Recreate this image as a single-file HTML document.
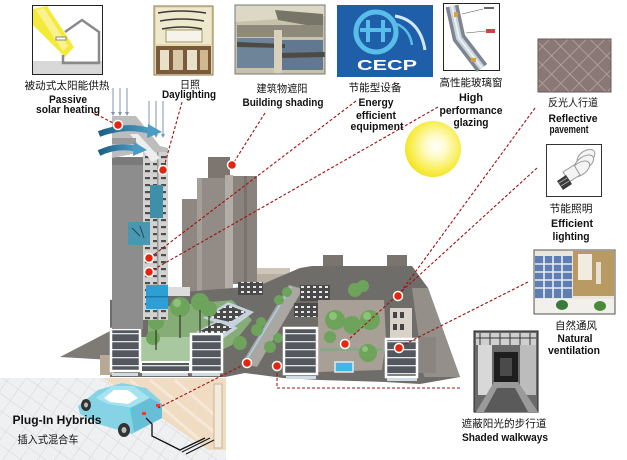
<!DOCTYPE html>
<html><head><meta charset="utf-8">
<style>
html,body{margin:0;padding:0;background:#fff;}
svg{display:block;}
.en{font-family:"Liberation Sans","Noto Sans CJK SC",sans-serif;font-weight:bold;font-size:11px;fill:#111;text-anchor:middle;}
.zh{font-family:"Liberation Sans","Noto Sans CJK SC",sans-serif;font-size:10.5px;fill:#111;text-anchor:middle;}
.dl{stroke:#a01010;stroke-width:1.1;stroke-dasharray:3 2;fill:none;}
.dot{fill:#e5260e;stroke:#fff;stroke-width:1.5;}
</style></head><body>
<svg width="627" height="460" viewBox="0 0 627 460" xmlns="http://www.w3.org/2000/svg">
<defs>
  <radialGradient id="sun" cx="0.55" cy="0.45" r="0.55">
    <stop offset="0" stop-color="#ffffff"/>
    <stop offset="0.35" stop-color="#fffbc8"/>
    <stop offset="0.8" stop-color="#f8ee50"/>
    <stop offset="1" stop-color="#f3e42a"/>
  </radialGradient>
  <pattern id="win" width="8" height="7" patternUnits="userSpaceOnUse">
    <rect width="8" height="7" fill="#d2d2d0"/><rect x="1" y="2" width="5" height="2.2" fill="#4e4e4e"/>
  </pattern>
  <pattern id="fac" width="30" height="8" patternUnits="userSpaceOnUse">
    <rect width="30" height="8" fill="#54585e"/><rect y="5" width="30" height="1.3" fill="#dfe3e6"/>
  </pattern>
  <pattern id="roofw" width="6" height="5" patternUnits="userSpaceOnUse">
    <rect width="6" height="5" fill="#4a4a4a"/><rect x="1" y="1" width="3" height="2" fill="#e8e8e8"/>
  </pattern>
  <pattern id="tile" width="14" height="14" patternUnits="userSpaceOnUse" patternTransform="rotate(35)">
    <rect width="14" height="14" fill="#eef0f2"/><path d="M0 0H14M0 0V14" stroke="#d3d7db" stroke-width="1"/>
  </pattern>
  <pattern id="pave" width="13" height="13" patternUnits="userSpaceOnUse" patternTransform="rotate(45)">
    <rect width="13" height="13" fill="#8a7876"/><path d="M0 0H13M0 0V13" stroke="#b8a8a4" stroke-width="1.5"/>
  </pattern>
  <linearGradient id="arr" x1="0" x2="1"><stop offset="0" stop-color="#1c5f84"/><stop offset="1" stop-color="#4a9cc4"/></linearGradient>
</defs>

<!-- ===== Photos ===== -->
<!-- passive solar -->
<rect x="32.5" y="5.5" width="70" height="69" fill="#fff" stroke="#222"/>
<polygon points="33,9 47,6 74,47 65,57 33,25" fill="#f4ea3a"/>
<polygon points="36,10 44,8 68,46 63,51" fill="#faf290"/>
<rect x="33" y="61" width="69" height="13" fill="#d8d8d8"/>
<polyline points="63,55 63,63 99,63 99,32 82,20 65,32" fill="none" stroke="#8a8a8a" stroke-width="2.5"/>
<rect x="56" y="37" width="10" height="3" fill="#fff" stroke="#888"/>
<!-- daylighting -->
<rect x="154" y="6" width="59" height="69" fill="#e6d9ac"/>
<rect x="156" y="8" width="55" height="36" fill="#eee8cc"/>
<path d="M158 13 Q180 9 206 13 M160 21 Q182 17 204 21 M162 29 Q183 25 202 29" stroke="#3a3a3a" stroke-width="1.6" fill="none"/>
<rect x="166" y="30" width="36" height="12" fill="#f6f4ea" stroke="#a89868"/>
<rect x="156" y="46" width="55" height="28" fill="#7a5a3a"/>
<rect x="160" y="50" width="9" height="20" fill="#e8e0c8"/><rect x="173" y="50" width="10" height="20" fill="#d8c8a8"/><rect x="187" y="50" width="10" height="20" fill="#e8e0c8"/><rect x="200" y="50" width="8" height="20" fill="#d0b890"/>
<rect x="154" y="6" width="59" height="69" fill="none" stroke="#8a7a50" stroke-width="1"/>
<!-- building shading -->
<rect x="235" y="5" width="90" height="69" fill="#c9c2aa"/>
<polygon points="235,5 325,5 325,16 235,22" fill="#ddd8c6"/>
<polygon points="275,10 323,14 323,28 278,20" fill="#777468"/>
<rect x="237" y="25" width="86" height="12" fill="#8d8a7c"/>
<rect x="237" y="38" width="40" height="30" fill="#6e8498"/>
<rect x="282" y="40" width="41" height="30" fill="#617890"/>
<polygon points="237,42 285,44 285,48 237,47" fill="#4c4a42"/>
<polygon points="280,53 325,52 325,57 280,58" fill="#4c4a42"/>
<rect x="274" y="30" width="8" height="44" fill="#d8d2bc"/>
<rect x="235" y="5" width="90" height="69" fill="none" stroke="#777" stroke-width="1"/>
<!-- CECP -->
<rect x="337" y="5" width="96" height="72" fill="#1f5ea8"/>
<circle cx="376" cy="32" r="20" fill="none" stroke="#58bde8" stroke-width="5"/>
<path d="M395 16 Q420 20 425 50" stroke="#cfe9f7" stroke-width="3" fill="none"/>
<path d="M397 24 Q410 30 412 45" stroke="#58bde8" stroke-width="2.5" fill="none"/>
<rect x="366" y="20" width="4" height="22" fill="#58bde8"/><rect x="381" y="20" width="4" height="22" fill="#58bde8"/>
<rect x="360" y="28" width="31" height="4" fill="#58bde8"/>
<text x="387" y="70" font-family="Liberation Sans, sans-serif" font-weight="bold" font-size="15" fill="#fff" text-anchor="middle" textLength="60" lengthAdjust="spacingAndGlyphs">CECP</text>
<!-- glazing -->
<rect x="443.5" y="3.5" width="56" height="67" fill="#fff" stroke="#222"/>
<polyline points="452,6 459,38 482,68" fill="none" stroke="#7d858e" stroke-width="13"/>
<polyline points="452,6 459,38 482,68" fill="none" stroke="#c9d3dc" stroke-width="6"/>
<polyline points="452,6 459,38 482,68" fill="none" stroke="#e9f0f5" stroke-width="2"/>
<rect x="454" y="12" width="4" height="5" fill="#d9a040"/><rect x="471" y="58" width="5" height="4" fill="#d9a040"/>
<path d="M462 14 L483 9 M466 33 L486 31" stroke="#555" stroke-width="0.6"/>
<rect x="484" y="7" width="10" height="2" fill="#666"/><rect x="486" y="29" width="9" height="4" fill="#c44"/>
<!-- reflective pavement -->
<rect x="538" y="39" width="73" height="53" fill="url(#pave)"/>
<rect x="538" y="39" width="73" height="53" fill="none" stroke="#6a5a58"/>
<!-- bulb -->
<rect x="546.5" y="144.5" width="55" height="52" fill="#fff" stroke="#333"/>
<g fill="#f4f4f4" stroke="#9a9a9a" stroke-width="1">
<ellipse cx="586" cy="157" rx="10" ry="6" transform="rotate(-35 586 157)"/>
<ellipse cx="584" cy="163" rx="11" ry="6" transform="rotate(-35 584 163)"/>
<ellipse cx="580" cy="169" rx="11" ry="6" transform="rotate(-35 580 169)"/>
<polygon points="563,172 574,165 580,175 569,182"/>
</g>
<polygon points="557,181 566,175 572,184 563,190" fill="#3a3a3a"/>
<path d="M559 183 L567 178 M561 186 L569 181" stroke="#aaa" stroke-width="1"/>
<!-- natural ventilation -->
<rect x="534" y="250" width="81" height="64" fill="#eae6dc" stroke="#555"/>
<rect x="535" y="256" width="37" height="42" fill="#5f7fb2"/>
<path d="M535 264H572M535 272H572M535 280H572M535 288H572M544 256V298M553 256V298M562 256V298" stroke="#e8ecf0" stroke-width="1.6"/>
<rect x="573" y="251" width="41" height="45" fill="#b89a62"/>
<rect x="578" y="254" width="14" height="26" fill="#f0ece0"/>
<rect x="596" y="262" width="5" height="22" fill="#e6e0d8"/>
<rect x="535" y="299" width="79" height="14" fill="#f2f0ea"/>
<ellipse cx="562" cy="305" rx="6" ry="5" fill="#3a7a3a"/><ellipse cx="600" cy="306" rx="6" ry="5" fill="#4a8a3a"/>
<!-- shaded walkways -->
<rect x="474" y="331" width="64" height="81" fill="#6a6a6a" stroke="#222"/>
<rect x="476" y="333" width="60" height="12" fill="#cfcfcf"/>
<path d="M476 338H536M480 333V345M490 333V345M500 333V345M510 333V345M520 333V345M530 333V345" stroke="#333" stroke-width="1"/>
<rect x="478" y="345" width="14" height="50" fill="#d8d8d8"/>
<rect x="520" y="345" width="16" height="50" fill="#bcbcbc"/>
<rect x="494" y="352" width="24" height="30" fill="#1e1e1e"/>
<rect x="500" y="358" width="12" height="18" fill="#4a4a4a"/>
<polygon points="476,412 494,382 518,382 538,412" fill="#9a9a9a"/>
<polygon points="484,412 497,388 515,388 528,412" fill="#5a5a5a"/>

<!-- ===== Sun ===== -->
<circle cx="433" cy="149" r="28" fill="url(#sun)"/>

<!-- ===== Complex: back buildings ===== -->
<rect x="208" y="157" width="22" height="25" fill="#7d7670"/>
<rect x="182" y="199" width="16" height="96" fill="#8f8882"/>
<rect x="197" y="178" width="28" height="117" fill="#938c86"/>
<rect x="197" y="178" width="5" height="117" fill="#a59f99"/>
<rect x="225" y="175" width="8" height="115" fill="#b3ada7"/>
<rect x="233" y="176" width="24" height="108" fill="#8a837d"/>
<rect x="244" y="176" width="3" height="108" fill="#7a736d"/>
<!-- right cluster -->
<rect x="323" y="255" width="20" height="18" fill="#7a746e"/>
<rect x="312" y="270" width="31" height="20" fill="#8a847e"/>
<rect x="343" y="272" width="44" height="20" fill="#77716b"/>
<rect x="387" y="255" width="20" height="22" fill="#7a746e"/>
<rect x="385" y="275" width="32" height="30" fill="#6e6862"/>
<rect x="257" y="268" width="33" height="22" fill="#b8aea2"/>
<rect x="257" y="268" width="33" height="6" fill="#cfc6ba"/>

<!-- ground -->
<polygon points="110,300 182,292 258,286 300,268 312,266 412,266 428,288 460,377 420,384 385,382 320,380 283,378 245,373 225,377 110,377" fill="#6f6d69"/>
<!-- right slab -->
<polygon points="412,288 428,288 460,377 424,377" fill="#958f8a"/>
<!-- left shadow triangle -->
<polygon points="60,357 112,330 112,360" fill="#7e7a76"/>
<rect x="100" y="355" width="14" height="20" fill="#b8a896"/>

<!-- courtyard left -->
<polygon points="148,308 232,300 252,320 232,345 196,362 148,362" fill="#86ad78"/>
<rect x="140" y="337" width="52" height="24" fill="#a8c8a0"/>
<rect x="167" y="287" width="23" height="9" fill="#dcdcdc"/>
<!-- roof blocks -->
<polygon points="203,318 228,302 254,312 232,328" fill="#c6d2de"/>
<polygon points="208,317 228,305 246,312 230,322" fill="url(#roofw)"/>
<polygon points="196,332 218,320 238,328 218,342" fill="#c6d2de"/>
<polygon points="200,331 218,322 232,328 218,337" fill="url(#roofw)"/>
<rect x="238" y="282" width="25" height="13" fill="url(#roofw)"/>
<!-- street -->
<polygon points="289,285 303,289 257,367 242,363" fill="#aaa7a3"/>
<line x1="291" y1="287" x2="244" y2="364" stroke="#a8d0e8" stroke-width="1.5"/>
<!-- dark windowed roofs right of street -->
<rect x="300" y="285" width="30" height="16" fill="url(#roofw)"/>
<rect x="294" y="303" width="26" height="14" fill="url(#roofw)"/>
<!-- right courtyard -->
<polygon points="318,300 384,300 386,340 382,370 318,372" fill="#a8a096"/>
<rect x="320" y="348" width="62" height="3" fill="#88a888"/>
<rect x="335" y="362" width="18" height="10" fill="#3eb8ea" stroke="#e8e8e8" stroke-width="1.5"/>
<rect x="390" y="308" width="22" height="30" fill="#d8d2c8"/>
<path d="M393 312h4v6h-4zM400 312h4v6h-4zM393 324h4v6h-4zM400 324h4v6h-4z" fill="#444"/>
<rect x="418" y="337" width="18" height="36" fill="#8a8580"/>

<!-- trees -->
<g fill="#6da35a">
<circle cx="180" cy="307" r="10"/><circle cx="200" cy="302" r="9"/><circle cx="209" cy="309" r="8"/>
<circle cx="156" cy="322" r="8"/><circle cx="153" cy="338" r="7"/><circle cx="240" cy="343" r="7"/>
<circle cx="257" cy="330" r="6"/><circle cx="261" cy="322" r="5"/><circle cx="270" cy="347" r="6"/>
<circle cx="279" cy="300" r="5"/><circle cx="287" cy="292" r="5"/><circle cx="278" cy="338" r="5"/>
<circle cx="335" cy="320" r="10"/><circle cx="352" cy="325" r="9"/><circle cx="370" cy="320" r="10"/>
<circle cx="355" cy="290" r="7"/><circle cx="363" cy="286" r="6"/><circle cx="368" cy="353" r="9"/>
<circle cx="330" cy="337" r="6"/>
</g>
<g fill="#8ec27a">
<circle cx="177" cy="303" r="4"/><circle cx="333" cy="316" r="4"/><circle cx="367" cy="316" r="4"/><circle cx="365" cy="349" r="3"/>
</g>
<path d="M180 315V338M200 310V335M209 316V340M156 330V350" stroke="#2f3a2a" stroke-width="1.2"/>

<!-- white-framed front buildings -->
<rect x="111" y="329" width="29" height="42" fill="url(#fac)" stroke="#fff" stroke-width="2.5"/>
<rect x="141" y="362" width="49" height="10" fill="url(#fac)" stroke="#fff" stroke-width="2"/>
<rect x="191" y="334" width="31" height="38" fill="url(#fac)" stroke="#fff" stroke-width="2.5"/>
<rect x="284" y="328" width="33" height="46" fill="url(#fac)" stroke="#fff" stroke-width="2.5"/>
<rect x="386" y="339" width="31" height="38" fill="url(#fac)" stroke="#fff" stroke-width="2.5"/>
<g fill="#cfdce4">
<rect x="112" y="373" width="26" height="3"/><rect x="142" y="373" width="46" height="3"/><rect x="192" y="373" width="28" height="3"/>
<rect x="286" y="376" width="30" height="3"/><rect x="387" y="378" width="30" height="3"/>
</g>

<!-- ===== Tower ===== -->
<rect x="112" y="157" width="31" height="172" fill="#8d8d8d"/>
<rect x="112" y="157" width="31" height="8" fill="#7a7a7a"/>
<rect x="143" y="148" width="25" height="172" fill="url(#win)"/>
<rect x="157" y="148" width="1.5" height="172" fill="#9a9a9a"/>
<polygon points="112,116 136,116 160,146 168,148 168,152 143,152 112,158" fill="#bdbdbd"/>
<polygon points="130,134 138,134 160,158 152,162" fill="#eeeeee"/>
<rect x="112" y="138" width="24" height="6" fill="#9a9a9a"/>
<rect x="150" y="185" width="13" height="33" fill="#3f8fa8"/>
<rect x="128" y="222" width="22" height="23" fill="#4b97b2"/>
<path d="M132 228l8 8M140 226l4 12" stroke="#1e4a5a" stroke-width="1"/>
<rect x="146" y="285" width="22" height="24" fill="#2d9fd4"/>
<rect x="146" y="296" width="22" height="1.5" fill="#1b7aa8"/>
<!-- vertical sun arrows -->
<g stroke="#7f95ad" stroke-width="1">
<path d="M113 88V114M120 88V114M127 88V114M149 101V136M156 101V136M163 101V136"/>
</g>
<g fill="#7f95ad">
<path d="M111 112h4l-2 4zM118 112h4l-2 4zM125 112h4l-2 4zM147 134h4l-2 4zM154 134h4l-2 4zM161 134h4l-2 4z"/>
</g>
<!-- wind arrows -->
<path d="M99 134 Q125 124 150 131" stroke="url(#arr)" stroke-width="6" fill="none"/>
<polygon points="148,124 162,132 147,138" fill="#4a9cc4"/>
<path d="M99 153 Q118 144 136 149" stroke="url(#arr)" stroke-width="6" fill="none"/>
<polygon points="134,142 147,150 133,156" fill="#4a9cc4"/>

<!-- ===== Car scene ===== -->
<rect x="0" y="378" width="226" height="82" fill="url(#tile)"/>
<polygon points="103,378 226,378 226,450 208,450" fill="#efdcc3"/>
<path d="M130 380L200 440M150 380L214 432M175 380L220 420" stroke="#f6e8d6" stroke-width="3"/>
<rect x="214" y="384" width="8" height="64" fill="#f5ebdd" stroke="#c8b49a" stroke-width="1"/>
<polygon points="78,406 98,390 122,383 146,388 160,400 162,418 132,434 98,424 80,414" fill="#86d3e6"/>
<polygon points="96,398 112,386 134,386 150,398 134,408 108,404" fill="#a6e2f0"/>
<polygon points="104,398 114,390 128,390 138,398 128,404 110,402" fill="#ffffff"/>
<polygon points="130,408 150,398 162,404 162,418 134,432" fill="#66bfd6"/>
<ellipse cx="86" cy="405" rx="5" ry="6" fill="#333"/><ellipse cx="86" cy="405" rx="2" ry="2.5" fill="#bbb"/>
<ellipse cx="124" cy="430" rx="6" ry="7" fill="#333"/><ellipse cx="124" cy="430" rx="2.5" ry="3" fill="#bbb"/>
<rect x="142" y="412" width="4" height="3" fill="#e04030"/><rect x="156" y="404" width="4" height="3" fill="#e04030"/>
<polyline points="146,418 152,424 152,436 180,450 205,438" fill="none" stroke="#111" stroke-width="1.3"/>
<path d="M182 452L210 438M186 454L214 440" stroke="#111" stroke-width="1"/>

<!-- ===== Dashed leader lines ===== -->
<path class="dl" d="M92 112L115 124"/>
<path class="dl" d="M182 102L164 167"/>
<path class="dl" d="M265 113L234 162"/>
<path class="dl" d="M356 101L151 257"/>
<path class="dl" d="M438 107L151 271"/>
<path class="dl" d="M535 108L400 293"/>
<path class="dl" d="M537 168L347 341"/>
<path class="dl" d="M528 282L401 346"/>
<path class="dl" d="M277 368V388H462"/>
<path class="dl" d="M245 364L158 408"/>

<!-- dots -->
<g>
<circle class="dot" cx="118" cy="125" r="4.5"/>
<circle class="dot" cx="163" cy="170" r="4.5"/>
<circle class="dot" cx="232" cy="165" r="4.5"/>
<circle class="dot" cx="149" cy="258" r="4.5"/>
<circle class="dot" cx="149" cy="272" r="4.5"/>
<circle class="dot" cx="398" cy="296" r="4.5"/>
<circle class="dot" cx="345" cy="344" r="4.5"/>
<circle class="dot" cx="399" cy="348" r="4.5"/>
<circle class="dot" cx="247" cy="363" r="4.5"/>
<circle class="dot" cx="277" cy="366" r="4.5"/>
</g>

<!-- ===== Labels ===== -->
<text class="zh" x="67" y="89" textLength="85" lengthAdjust="spacingAndGlyphs">被动式太阳能供热</text>
<text class="en" x="68" y="103" textLength="38" lengthAdjust="spacingAndGlyphs">Passive</text>
<text class="en" x="68" y="113" textLength="64" lengthAdjust="spacingAndGlyphs">solar heating</text>

<text class="zh" x="190" y="88" textLength="20" lengthAdjust="spacingAndGlyphs">日照</text>
<text class="en" x="189" y="98" textLength="54" lengthAdjust="spacingAndGlyphs">Daylighting</text>

<text class="zh" x="282" y="92" textLength="51" lengthAdjust="spacingAndGlyphs">建筑物遮阳</text>
<text class="en" x="283" y="106" textLength="81" lengthAdjust="spacingAndGlyphs">Building shading</text>

<text class="zh" x="375" y="91" textLength="53" lengthAdjust="spacingAndGlyphs">节能型设备</text>
<text class="en" x="376" y="106" textLength="35" lengthAdjust="spacingAndGlyphs">Energy</text>
<text class="en" x="376" y="119" textLength="40" lengthAdjust="spacingAndGlyphs">efficient</text>
<text class="en" x="377" y="130" textLength="53" lengthAdjust="spacingAndGlyphs">equipment</text>

<text class="zh" x="471" y="86" textLength="63" lengthAdjust="spacingAndGlyphs">高性能玻璃窗</text>
<text class="en" x="471" y="101" textLength="24" lengthAdjust="spacingAndGlyphs">High</text>
<text class="en" x="471" y="114" textLength="63" lengthAdjust="spacingAndGlyphs">performance</text>
<text class="en" x="471" y="126" textLength="35" lengthAdjust="spacingAndGlyphs">glazing</text>

<text class="zh" x="573" y="106" textLength="50" lengthAdjust="spacingAndGlyphs">反光人行道</text>
<text class="en" x="573" y="122" textLength="49" lengthAdjust="spacingAndGlyphs">Reflective</text>
<text class="en" x="569" y="133" textLength="39" lengthAdjust="spacingAndGlyphs">pavement</text>

<text class="zh" x="571" y="212" textLength="43" lengthAdjust="spacingAndGlyphs">节能照明</text>
<text class="en" x="572" y="227" textLength="42" lengthAdjust="spacingAndGlyphs">Efficient</text>
<text class="en" x="571" y="240" textLength="37" lengthAdjust="spacingAndGlyphs">lighting</text>

<text class="zh" x="576" y="329" textLength="42" lengthAdjust="spacingAndGlyphs">自然通风</text>
<text class="en" x="575" y="342" textLength="35" lengthAdjust="spacingAndGlyphs">Natural</text>
<text class="en" x="574" y="354" textLength="52" lengthAdjust="spacingAndGlyphs">ventilation</text>

<text class="zh" x="504" y="427" textLength="85" lengthAdjust="spacingAndGlyphs">遮蔽阳光的步行道</text>
<text class="en" x="505" y="441" textLength="86" lengthAdjust="spacingAndGlyphs">Shaded walkways</text>

<text class="en" x="57" y="424" font-size="12" style="font-size:12px" textLength="89" lengthAdjust="spacingAndGlyphs">Plug-In Hybrids</text>
<text class="zh" x="48" y="443" textLength="61" lengthAdjust="spacingAndGlyphs">插入式混合车</text>
</svg>
</body></html>
